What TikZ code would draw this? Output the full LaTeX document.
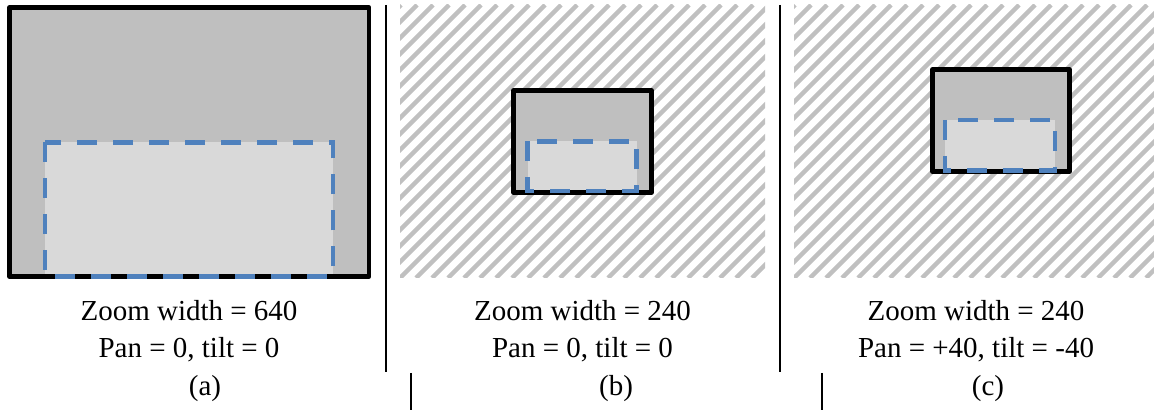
\documentclass[tikz,border=0pt]{standalone}
\usepackage{fontspec}
\setmainfont{Liberation Serif}
\definecolor{boxgray}{RGB}{191,191,191}
\definecolor{innergray}{RGB}{217,217,217}
\definecolor{dashblue}{RGB}{79,129,189}
\definecolor{hatchgray}{RGB}{192,192,192}
\tikzset{
  frame/.style={draw=black, line width=4.5pt, line join=round},
  outerfill/.style={fill=boxgray},
  innerfill/.style={fill=innergray},
  zoomrect/.style={draw=dashblue, line width=4.2pt, dash pattern=on 20pt off 16pt},
  hatchline/.style={draw=hatchgray, line width=4.5pt},
  divider/.style={draw=black, line width=2pt},
  caption/.style={font=\fontsize{29}{35}\selectfont, anchor=base, inner sep=0pt}
}
\begin{document}
\begin{tikzpicture}[x=1pt,y=-1pt]
\useasboundingbox (0,0) rectangle (1154,411);

% ---------- panel (a)
\fill[outerfill] (9.5,7.5) rectangle (369,276.5);
\fill[innerfill] (45,142.5) rectangle (333,276.5);
\draw[frame] (9.5,7.5) rectangle (369,276.5);
\draw[zoomrect] (45,142.5) rectangle (333,276.5);

% ---------- panel (b)
\begin{scope}
  \clip (400,5) rectangle (765,278);
  \foreach \k in {-288,-272,...,384} \draw[hatchline] (400+\k,278) -- ++(273,-273);
\end{scope}
\fill[outerfill] (513.5,90.5) rectangle (651.5,192.5);
\fill[innerfill] (527.5,141.5) rectangle (636.5,191);
\draw[frame] (513.5,90.5) rectangle (651.5,192.5);
\draw[zoomrect] (527.5,141.5) rectangle (636.5,191);

% ---------- panel (c)
\begin{scope}
  \clip (794,5) rectangle (1154,278);
  \foreach \k in {-288,-272,...,384} \draw[hatchline] (794+\k,278) -- ++(273,-273);
\end{scope}
\fill[outerfill] (932.5,69.5) rectangle (1069.5,171.5);
\fill[innerfill] (945,120) rectangle (1055,170.5);
\draw[frame] (932.5,69.5) rectangle (1069.5,171.5);
\draw[zoomrect] (945,120) rectangle (1055,170.5);

% ---------- dividers
\draw[divider] (386,5) -- (386,372);
\draw[divider] (779.5,5) -- (779.5,372);
\draw[divider] (411,373) -- (411,410);
\draw[divider] (822,373) -- (822,410);

% ---------- captions
\node[caption] (a1) at (189,321) {Zoom width = 640};
\node[caption] (a2) at (189,358) {Pan = 0, tilt = 0};
\node[caption] (la) at (205,396) {(a)};
\node[caption] (b1) at (582.5,321) {Zoom width = 240};
\node[caption] (b2) at (582.5,358) {Pan = 0, tilt = 0};
\node[caption] (lb) at (616,396) {(b)};
\node[caption] (c1) at (976,321) {Zoom width = 240};
\node[caption] (c2) at (976,358) {Pan = +40, tilt = -40};
\node[caption] (lc) at (988,396) {(c)};
\end{tikzpicture}
\end{document}
